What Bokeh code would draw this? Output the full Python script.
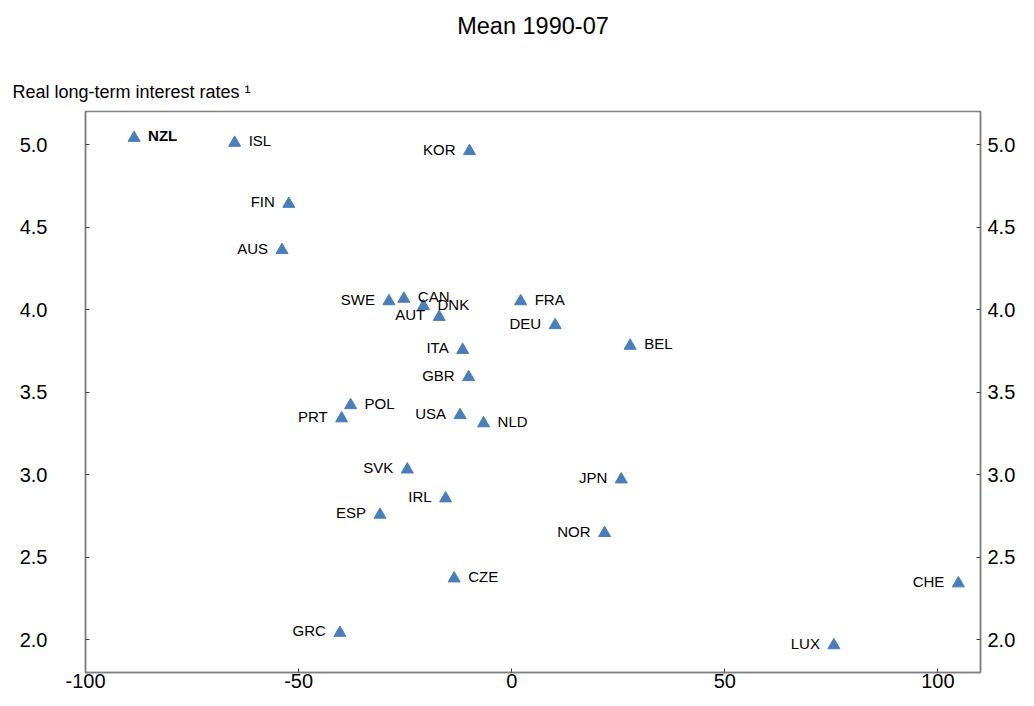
from bokeh.plotting import figure
from bokeh.models import ColumnDataSource, FixedTicker, Title, PrintfTickFormatter, LinearAxis, Range1d
from bokeh.embed import file_html
from bokeh.resources import INLINE
from bokeh.core.properties import value

# ---- data ----
countries = ["NZL", "ISL", "KOR", "FIN", "AUS", "SWE", "CAN", "DNK", "AUT", "FRA",
             "DEU", "BEL", "ITA", "GBR", "POL", "PRT", "USA", "NLD", "SVK", "IRL",
             "ESP", "JPN", "NOR", "CZE", "CHE", "LUX", "GRC"]
x_vals = [-88.6, -65.0, -9.9, -52.3, -53.9, -28.8, -25.3, -20.7, -17.0, 2.1,
          10.2, 27.8, -11.5, -10.1, -37.8, -39.9, -12.1, -6.6, -24.5, -15.5,
          -30.9, 25.7, 21.8, -13.5, 104.8, 75.6, -40.3]
y_vals = [5.04, 5.01, 4.96, 4.64, 4.36, 4.05, 4.065, 4.02, 3.955, 4.05,
          3.905, 3.78, 3.755, 3.59, 3.42, 3.34, 3.36, 3.31, 3.03, 2.855,
          2.756, 2.97, 2.645, 2.37, 2.34, 1.965, 2.04]
x_ticks = [-100, -50, 0, 50, 100]
y_ticks = [2.0, 2.5, 3.0, 3.5, 4.0, 4.5, 5.0]
title_text = "Mean 1990-07"
axis_label_text = "Real long-term interest rates \u00b9"

# ---- layout choices ----
right_labelled = {"NZL", "ISL", "CAN", "DNK", "FRA", "BEL", "POL", "NLD", "CZE"}
bold_labelled = {"NZL"}
FONT = "Liberation Sans"
BLUE = "#4a7ebb"
GREY = "#808080"

p = figure(width=1018, height=690, output_backend="svg", toolbar_location=None,
           x_range=Range1d(-100, 110), y_range=Range1d(1.8, 5.2), title=None,
           min_border_left=85, min_border_right=36, min_border_top=111, min_border_bottom=18)
p.xgrid.visible = False
p.ygrid.visible = False
p.outline_line_color = GREY
p.outline_line_width = 1.5
p.background_fill_color = "white"
p.border_fill_color = "white"

p.add_layout(LinearAxis(), "right")
for ax in p.xaxis:
    ax.ticker = FixedTicker(ticks=x_ticks)
    ax.formatter = PrintfTickFormatter(format="%d")
    ax.major_label_standoff = 1
for i, ax in enumerate(p.yaxis):
    ax.ticker = FixedTicker(ticks=y_ticks)
    ax.formatter = PrintfTickFormatter(format="%.1f")
    ax.major_label_standoff = 38 if i == 0 else 7
for ax in list(p.xaxis) + list(p.yaxis):
    ax.axis_line_color = GREY
    ax.axis_line_width = 1.5
    ax.major_tick_in = 4
    ax.major_tick_out = 0
    ax.major_tick_line_color = "#404040"
    ax.minor_tick_line_color = None
    ax.major_label_text_font = FONT
    ax.major_label_text_font_size = "20px"
    ax.major_label_text_color = "black"

# above panel, stacked outward from the frame: axis label, gap, chart title
sub = Title(text=axis_label_text, align="left", offset=-73, text_font=FONT, standoff=19,
            text_font_size="18px", text_font_style="normal", text_color="black")
p.add_layout(sub, "above")
gap = Title(text=" ", text_font_size="1px", standoff=19)
p.add_layout(gap, "above")
main = Title(text=title_text, align="center", text_font=FONT, standoff=20,
             text_font_size="23.5px", text_font_style="normal", text_color="black")
p.add_layout(main, "above")

src = ColumnDataSource(dict(x=x_vals, y=y_vals, name=countries))
p.scatter("x", "y", source=src, marker="triangle", size=12, fill_color=BLUE, line_color=BLUE)

def sub_src(pred):
    idx = [i for i, c in enumerate(countries) if pred(c)]
    return ColumnDataSource(dict(x=[x_vals[i] for i in idx], y=[y_vals[i] for i in idx],
                                 name=[countries[i] for i in idx]))

groups = [
    (lambda c: c in right_labelled and c not in bold_labelled, "left", 14, "normal"),
    (lambda c: c in right_labelled and c in bold_labelled, "left", 14, "bold"),
    (lambda c: c not in right_labelled, "right", -14, "normal"),
]
for pred, align, xo, style in groups:
    p.text("x", "y", text="name", source=sub_src(pred), text_align=align,
           text_baseline="middle", x_offset=xo, y_offset=-2,
           text_font=value(FONT), text_font_size="15px", text_font_style=style,
           text_color="black")

open("out.html", "w").write(file_html(p, INLINE))
